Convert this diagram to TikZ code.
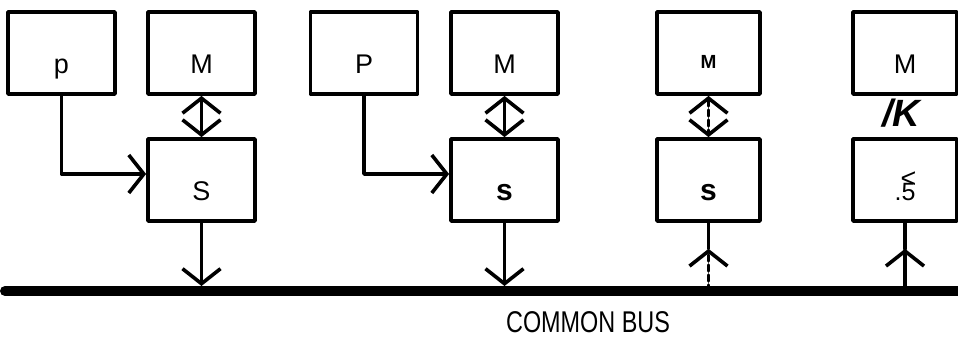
\documentclass[tikz,border=0pt]{standalone}
\usepackage{fontspec}
\setmainfont{Liberation Sans}
\usetikzlibrary{arrows.meta,calc}
\begin{document}
\begin{tikzpicture}[x=1pt,y=-1pt,line join=round,line cap=round,
	>={Straight Barb[length=15pt,width=38pt]},
	box/.style={draw,line width=3.8pt,minimum width=107pt,minimum height=82pt,inner sep=0pt,
		text height=40pt,text depth=0pt,font=\fontsize{27}{30}\selectfont},
	wire/.style={line width=3.6pt},
	dots/.style={wire,dash pattern=on 6pt off 4pt},
	bus/.style={line width=10pt}]
	\useasboundingbox (0,0) rectangle (958,338);
	% boxes
	\node[box] (p1) at (61.5,53) {p};
	\node[box] (m1) at (201.5,53) {M};
	\node[box] (s1) at (201.5,180) {S};
	\node[box] (p2) at (364,53) {P};
	\node[box] (m2) at (504.5,53) {M};
	\node[box,font=\fontsize{30}{30}\selectfont\bfseries] (s2) at (504.5,180) {s};
	\node[box,minimum width=103pt,text height=30pt,font=\fontsize{19}{20}\selectfont\bfseries] (m3) at (708.5,53) {M};
	\node[box,minimum width=103pt,font=\fontsize{30}{30}\selectfont\bfseries] (s3) at (708.5,180) {s};
	\node[box,minimum width=104pt] (m4) at (905,53) {M};
	\node[box,minimum width=104pt,font=\fontsize{25}{25}\selectfont] (s4) at (905,180) {.5\llap{\raisebox{13pt}{\fontsize{27}{27}\selectfont<\kern-1pt}}};
	\node[font=\fontsize{38}{38}\selectfont\bfseries\itshape] (k4) at (901,113) {/K};
	% bus
	\coordinate (busL) at (5,291);
	\coordinate (busR) at (958,291);
	\draw[bus] (busL) -- (busR);
	\node[font=\fontsize{30}{30}\selectfont,xscale=0.78,anchor=base] (cb) at (588,332) {COMMON BUS};
	% connectors
	\draw[wire,->] (p1.south) |- ([yshift=6pt]s1.west);
	\draw[wire,<->] (m1.south) -- (s1.north);
	\draw[wire,->,shorten >=5pt] (s1.south) -- (s1.south |- busL);
	\draw[wire,->] (p2.south) |- ([yshift=6pt]s2.west);
	\draw[wire,<->] (m2.south) -- (s2.north);
	\draw[wire,->,shorten >=5pt] (s2.south) -- (s2.south |- busL);
	\draw[dots,<->] (m3.south) -- (s3.north);
	\coordinate (t3) at ($(s3.south)!0.38!(s3.south |- busL)$);
	\draw[dots,->] (s3.south |- busL) -- (t3);
	\draw[wire] (t3) -- (s3.south);
	\coordinate (t4) at ($(s4.south)!0.38!(s4.south |- busL)$);
	\draw[wire,->] (s4.south |- busL) -- (t4);
	\draw[wire] (t4) -- (s4.south);
\end{tikzpicture}
\end{document}
